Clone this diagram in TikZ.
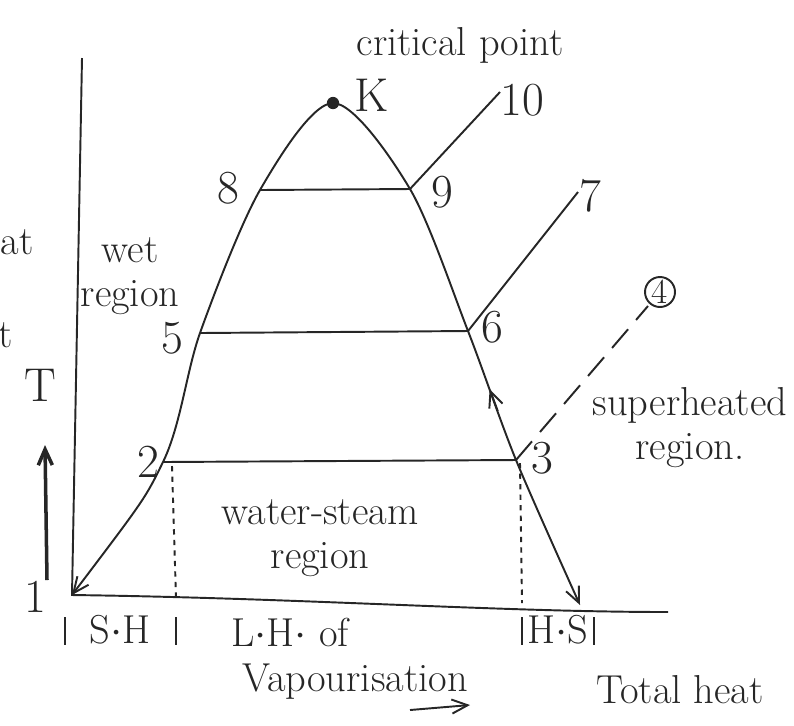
\documentclass[tikz,border=0pt]{standalone}
\usepackage{tikz}
\usetikzlibrary{arrows.meta, positioning, calc}
\definecolor{Ink}{HTML}{262626}

\begin{document}
\begin{tikzpicture}[x=0.02cm, y=-0.02cm, line width=1.1pt, draw=Ink,
    hand/.style={font=\fontsize{23}{25}\selectfont, text=Ink, inner sep=1pt, align=center},
    numlbl/.style={font=\fontsize{27}{29}\selectfont, text=Ink, inner sep=1pt},
    barb/.style={-{Straight Barb[length=9pt, width=8pt]}}]
    \useasboundingbox (0,0) rectangle (794,725);

    % state points on the curve
    \coordinate (O)   at (72,595);
    \coordinate (p2)  at (163,462);
    \coordinate (p5)  at (200,333);
    \coordinate (p8)  at (260,190);
    \coordinate (K)   at (333,103);
    \coordinate (p9)  at (410,189);
    \coordinate (p6)  at (468,331);
    \coordinate (p3)  at (516,460);
    \coordinate (foot) at (580,605);
    \coordinate (p10) at (500,92);
    \coordinate (p7)  at (578,192);
    \coordinate (p4)  at (648,306);

    % axes
    \coordinate (ytop) at (82,58);
    \coordinate (xend) at (668,612);
    \draw (ytop) -- (O) .. controls (300,598) and (500,612) .. (xend);

    % saturation curve
    \draw[{Straight Barb[length=9pt, width=8pt]}-{Straight Barb[length=9pt, width=8pt]}]
        plot[smooth, tension=0.5] coordinates {(O) (p2) (p5) (p8) (K) (p9) (p6) (p3) (foot)};
    \fill[Ink] (K) circle[radius=3.5pt];

    % constant pressure lines
    \draw (p2) -- (p3);
    \draw (p5) -- (p6);
    \draw (p8) -- (p9);
    \draw (p9) -- (p10);
    \draw (p6) -- (p7);
    \draw[dashed, dash pattern=on 14pt off 7pt] (p3) -- (p4);
    \draw[barb] ($(p6)!0.62!(p3)$) -- ($(p6)!0.45!(p3)$);

    % dashed drop lines
    \draw[dashed] (172,466) -- (176,598);
    \draw[dashed] (520,463) -- (522,603);

    % point labels
    \node[hand] (crit) at (460,45) {critical point};
    \node[numlbl] (lK)  at (372,95)  {K};
    \node[numlbl] (l10) at (522,100) {10};
    \node[numlbl] (l9)  at (442,192) {9};
    \node[numlbl] (l8)  at (228,188) {8};
    \node[numlbl] (l7)  at (590,196) {7};
    \node[numlbl] (l5)  at (172,338) {5};
    \node[numlbl] (l6)  at (492,327) {6};
    \node[numlbl] (l2)  at (148,462) {2};
    \node[numlbl] (l3)  at (542,458) {3};
    \node[numlbl] (l1)  at (35,597)  {1};
    \node[numlbl, draw=Ink, circle, inner sep=0pt, minimum size=0.6cm, font=\fontsize{20}{22}\selectfont] (l4) at (660,292) {4};

    % region labels
    \node[hand] (wet) at (130,276) {wet\\region};
    \node[hand] (sup) at (690,428) {superheated\\region.};
    \node[hand] (mix) at (320,538) {water-steam\\region};

    % ordinate
    \node[numlbl] (lT) at (40,385) {T};
    \coordinate (tb) at (47,580);
    \coordinate (tt) at (45,445);
    \draw[barb, line width=2pt] (tb) -- (tt);
    \node[hand, anchor=west] (cut1) at (-2,242) {at};
    \node[hand, anchor=west] (cut2) at (-4,335) {t};

    % abscissa labels
    \foreach \bx in {65,176,522,594}
        \draw (\bx,617) -- (\bx,645);
    \node[hand] (sh)  at (120,630) {S$\cdot$H};
    \node[hand] (hs)  at (558,630) {H$\cdot$S};
    \node[hand] (lh)  at (290,632) {L$\cdot$H$\cdot$ of};
    \node[hand] (vap) at (355,682) {Vapourisation};
    \node[hand] (tot) at (680,690) {Total heat};
    \coordinate (ab) at (410,710);
    \coordinate (ae) at (470,705);
    \draw[barb] (ab) -- (ae);
\end{tikzpicture}
\end{document}
